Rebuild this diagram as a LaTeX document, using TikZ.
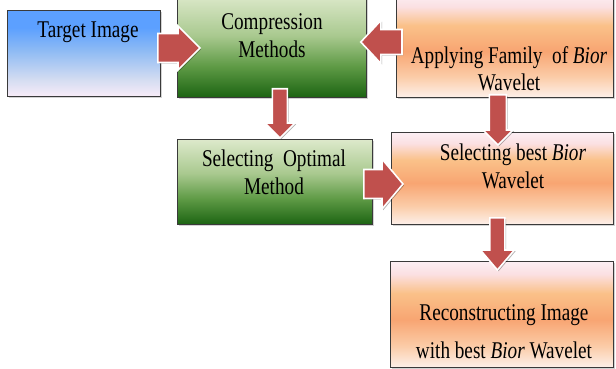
\documentclass[tikz,border=0pt]{standalone}
\usepackage{fontspec}
\setmainfont[FakeStretch=0.8]{Liberation Serif}
\usetikzlibrary{calc,shadows}
\definecolor{arrowred}{HTML}{C0504D}
\definecolor{boxline}{HTML}{3A3A3A}
\definecolor{or0}{HTML}{FCEFF4}
\definecolor{or1}{HTML}{FBE0E2}
\definecolor{or2}{HTML}{FAC189}
\definecolor{or3}{HTML}{F8A572}
\definecolor{or4}{HTML}{FBCCA8}
\definecolor{or5}{HTML}{FDF0EA}
\definecolor{gr0}{HTML}{DDE9CB}
\definecolor{gr1}{HTML}{A9C98F}
\definecolor{gr2}{HTML}{5E9A45}
\definecolor{gr3}{HTML}{1C6412}
\definecolor{bl0}{HTML}{5CA0FF}
\definecolor{bl1}{HTML}{8DBAF4}
\definecolor{bl2}{HTML}{D3DCF1}
\definecolor{bl3}{HTML}{F8ECF8}
\pgfdeclareverticalshading{orangesh}{100bp}{color(0bp)=(or5); color(25bp)=(or5); color(35bp)=(or4); color(47.5bp)=(or3); color(60bp)=(or2); color(69bp)=(or1); color(75bp)=(or0); color(100bp)=(or0)}
\pgfdeclareverticalshading{greensh}{100bp}{color(0bp)=(gr3); color(25bp)=(gr3); color(40bp)=(gr2); color(55bp)=(gr1); color(75bp)=(gr0); color(100bp)=(gr0)}
\pgfdeclareverticalshading{bluesh}{100bp}{color(0bp)=(bl3); color(25bp)=(bl3); color(35bp)=(bl2); color(52bp)=(bl1); color(65bp)=(bl0); color(75bp)=(bl0); color(100bp)=(bl0)}
\tikzset{
  box/.style={draw=boxline, line width=0.8pt, rectangle, inner sep=0pt, anchor=north west,
    drop shadow={shadow xshift=1.5pt, shadow yshift=-1.5pt, opacity=0.35}},
  bluebox/.style={box, shading=bluesh},
  greenbox/.style={box, shading=greensh},
  orangebox/.style={box, shading=orangesh},
  lbl/.style={align=center, font=\fontsize{24}{28}\selectfont, inner sep=0pt},
  bar sw/.store in=\barsw, bar hw/.store in=\barhw, bar hl/.store in=\barhl,
  bar sw=7pt, bar hw=15pt, bar hl=15pt,
  blockarrow/.style={fill=arrowred, draw=white, line width=1.6pt, line join=miter,
    preaction={fill=black, opacity=0.3, draw=none, transform canvas={shift={(1.2pt,-1.2pt)}}},
    to path={
      ($(\tikztostart)!\barsw!90:(\tikztotarget)$)
      -- ($($(\tikztotarget)!\barhl!(\tikztostart)$)!\barsw!-90:(\tikztostart)$)
      -- ($($(\tikztotarget)!\barhl!(\tikztostart)$)!\barhw!-90:(\tikztostart)$)
      -- (\tikztotarget)
      -- ($($(\tikztotarget)!\barhl!(\tikztostart)$)!\barhw!90:(\tikztostart)$)
      -- ($($(\tikztotarget)!\barhl!(\tikztostart)$)!\barsw!90:(\tikztostart)$)
      -- ($(\tikztostart)!\barsw!-90:(\tikztotarget)$)
      -- cycle}},
}
\begin{document}
\begin{tikzpicture}[x=1pt,y=-1pt]
\useasboundingbox (0,0) rectangle (616,369);
\clip (0,0) rectangle (616,369);
% boxes
\node[bluebox, minimum width=153pt, minimum height=86pt] (tgt) at (7,10) {};
\node[greenbox, minimum width=189pt, minimum height=103pt] (comp) at (177,-6) {};
\node[orangebox, minimum width=217pt, minimum height=103pt] (app) at (396,-6) {};
\node[greenbox, minimum width=195pt, minimum height=85pt] (opt) at (177,139) {};
\node[orangebox, minimum width=222pt, minimum height=92pt] (best) at (391,132) {};
\node[orangebox, minimum width=223pt, minimum height=106pt] (rec) at (390,261) {};
% labels
\node[lbl, anchor=base] (tgtl) at (88,38) {Target Image};
\node[lbl, anchor=base] (compl1) at (272,30) {Compression};
\node[lbl, anchor=base] (compl2) at (272,58) {Methods};
\node[lbl, anchor=base] (appl1) at (509,64) {Applying Family\ \ of \textit{Bior}};
\node[lbl, anchor=base] (appl2) at (509,91) {Wavelet};
\node[lbl, anchor=base] (optl1) at (274,166) {Selecting\ \ Optimal};
\node[lbl, anchor=base] (optl2) at (274,194) {Method};
\node[lbl, anchor=base] (bestl1) at (513,160) {Selecting best \textit{Bior}};
\node[lbl, anchor=base] (bestl2) at (513,188) {Wavelet};
\node[lbl, anchor=base] (recl1) at (504,320) {Reconstructing Image};
\node[lbl, anchor=base] (recl2) at (504,358) {with best \textit{Bior} Wavelet};
% arrow end points
\coordinate (a1s) at ($(tgt.north east)+(-3,38)$);
\coordinate (a1e) at ($(comp.west)+(23,0)$);
\coordinate (a2s) at ($(app.north west)+(6,46)$);
\coordinate (a2e) at ($(comp.east)+(-6,0)$);
\coordinate (a3s) at ($(comp.south)+(8,-9)$);
\coordinate (a3e) at ($(opt.north)+(5,-1)$);
\coordinate (a4s) at ($(app.south)+(-7,-3)$);
\coordinate (a4e) at ($(best.north)+(-5,13)$);
\coordinate (a5s) at ($(opt.east)+(-9,0)$);
\coordinate (a5e) at ($(best.west)+(12,0)$);
\coordinate (a6s) at ($(best.south)+(-5,-7)$);
\coordinate (a6e) at ($(rec.north)+(-6,9)$);
\path[blockarrow, bar sw=14.5pt, bar hw=22pt, bar hl=22pt] (a1s |- 0,48) to (a1e |- 0,48);
\path[blockarrow, bar sw=12.5pt, bar hw=21.5pt, bar hl=20pt] (a2s |- 0,42) to (a2e |- 0,42);
\path[blockarrow, bar sw=7.5pt, bar hw=15pt, bar hl=15pt] (a3s) to (a3s |- a3e);
\path[blockarrow, bar sw=8.5pt, bar hw=15pt, bar hl=15pt] (a4s) to (a4s |- a4e);
\path[blockarrow, bar sw=14.5pt, bar hw=25pt, bar hl=21pt] (a5s |- 0,184) to (a5e |- 0,184);
\path[blockarrow, bar sw=7.5pt, bar hw=17pt, bar hl=20pt] (a6s) to (a6s |- a6e);
\end{tikzpicture}
\end{document}
